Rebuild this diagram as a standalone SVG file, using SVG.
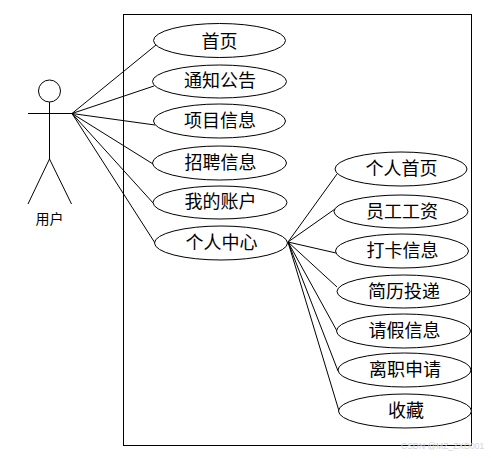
<svg xmlns="http://www.w3.org/2000/svg" width="494" height="458" viewBox="0 0 494 458">
<style>
.s{fill:none;stroke:#000;stroke-width:1}
.e{fill:#fff;stroke:#000;stroke-width:1}
.t{font-family:"Noto Sans CJK SC","Liberation Sans",sans-serif;font-size:18px;fill:#000;text-anchor:middle;dominant-baseline:central}
.a{font-size:14px}
.w{font-family:"Liberation Sans",sans-serif;font-size:8.5px;fill:#d4d4d4;text-anchor:start}
</style>
<rect width="494" height="458" fill="#fff"/>
<rect id="boundary" class="s" x="123.5" y="14.5" width="348" height="431"/>
<g id="connectors" class="s">
<line x1="72" y1="113.5" x2="156" y2="45"/>
<line x1="72" y1="113.5" x2="154" y2="86"/>
<line x1="72" y1="113.5" x2="155" y2="125"/>
<line x1="72" y1="113.5" x2="153" y2="164"/>
<line x1="72" y1="113.5" x2="154" y2="204"/>
<line x1="72" y1="113.5" x2="155" y2="243"/>
<line x1="288" y1="242" x2="337" y2="174"/>
<line x1="288" y1="242" x2="335" y2="209"/>
<line x1="288" y1="242" x2="336" y2="253"/>
<line x1="288" y1="242" x2="337" y2="287"/>
<line x1="288" y1="242" x2="337" y2="331"/>
<line x1="288" y1="242" x2="338" y2="371"/>
<line x1="288" y1="242" x2="339" y2="411"/>
</g>
<g id="actor">
<circle class="s" cx="49.5" cy="91" r="11"/>
<path class="s" d="M49.5 102V159M28 113.5H72M49.5 159L28 204M49.5 159L71.5 204"/>
<text class="t a" x="49.5" y="218">用户</text>
</g>
<g id="uc1"><ellipse class="e" cx="219.5" cy="40.5" rx="66" ry="17"/><text class="t" x="219.5" y="39.5">首页</text></g>
<g id="uc2"><ellipse class="e" cx="219.5" cy="81.5" rx="67" ry="16.5"/><text class="t" x="220" y="79">通知公告</text></g>
<g id="uc3"><ellipse class="e" cx="219.5" cy="121" rx="66" ry="17"/><text class="t" x="220" y="119">项目信息</text></g>
<g id="uc4"><ellipse class="e" cx="219.5" cy="163" rx="67" ry="17"/><text class="t" x="220.5" y="161">招聘信息</text></g>
<g id="uc5"><ellipse class="e" cx="220" cy="202.5" rx="67" ry="16.5"/><text class="t" x="220.5" y="200">我的账户</text></g>
<g id="uc6"><ellipse class="e" cx="221" cy="243" rx="66.5" ry="17"/><text class="t" x="221.5" y="241">个人中心</text></g>
<g id="uc7"><ellipse class="e" cx="401" cy="169" rx="66" ry="17"/><text class="t" x="401.5" y="167">个人首页</text></g>
<g id="uc8"><ellipse class="e" cx="401" cy="211.5" rx="67" ry="16.5"/><text class="t" x="402" y="210">员工工资</text></g>
<g id="uc9"><ellipse class="e" cx="402" cy="251" rx="66.5" ry="17"/><text class="t" x="402.5" y="248.5">打卡信息</text></g>
<g id="uc10"><ellipse class="e" cx="403.5" cy="291.5" rx="66.5" ry="16.5"/><text class="t" x="404" y="290">简历投递</text></g>
<g id="uc11"><ellipse class="e" cx="403.5" cy="331" rx="67" ry="17"/><text class="t" x="404.5" y="329">请假信息</text></g>
<g id="uc12"><ellipse class="e" cx="404.5" cy="370" rx="66.5" ry="17"/><text class="t" x="405" y="368">离职申请</text></g>
<g id="uc13"><ellipse class="e" cx="405" cy="411" rx="66.5" ry="17"/><text class="t" x="406" y="409">收藏</text></g>
<text class="w" x="401" y="449">CSDN @MZ_ZXD001</text>
</svg>
